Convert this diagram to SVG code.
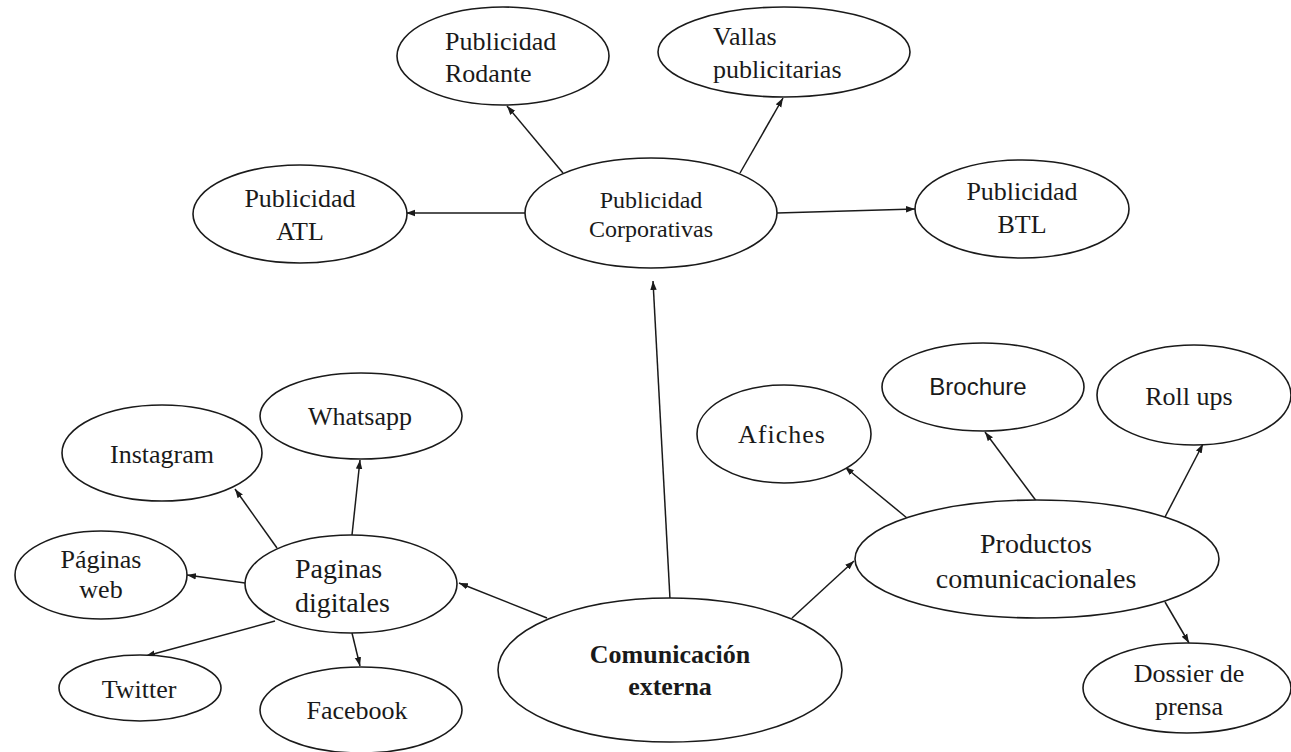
<svg xmlns="http://www.w3.org/2000/svg" width="1291" height="752" viewBox="0 0 1291 752">
  <style>
    .node ellipse { fill: #ffffff; stroke: #1a1a1a; stroke-width: 1.6; }
    .node text { font-family: "Liberation Serif", "Times New Roman", serif; font-size: 26px; fill: #1a1a1a; }
    .node text.c { text-anchor: middle; }
    .node text.big { font-size: 28px; }
    .node text.mid { font-size: 24px; }
    .node text.sans { font-family: "Liberation Sans", Arial, sans-serif; font-size: 24px; }
    .node text.bold { font-weight: bold; }
    .edges line { stroke: #1a1a1a; stroke-width: 1.5; fill: none; marker-end: url(#arrow); }
  </style>
  <defs>
    <marker id="arrow" markerUnits="userSpaceOnUse" markerWidth="10" markerHeight="8" refX="9" refY="4" orient="auto">
      <path d="M0,0.8 L9,4 L0,7.2 Z" fill="#1a1a1a"/>
    </marker>
  </defs>
  <rect width="1291" height="752" fill="#ffffff"/>

  <!-- connectors -->
  <g id="edges" class="edges">
    <line x1="670" y1="599" x2="653" y2="281"/>
    <line x1="525" y1="213" x2="406" y2="213"/>
    <line x1="777" y1="213" x2="915" y2="209"/>
    <line x1="563" y1="173" x2="507" y2="106"/>
    <line x1="740" y1="173" x2="783" y2="98"/>
    <line x1="547" y1="618" x2="459" y2="583"/>
    <line x1="277" y1="548" x2="235" y2="489"/>
    <line x1="352" y1="535" x2="360" y2="460"/>
    <line x1="245" y1="583" x2="187" y2="575"/>
    <line x1="275" y1="621" x2="146" y2="656"/>
    <line x1="352" y1="633" x2="360" y2="666"/>
    <line x1="792" y1="618" x2="854" y2="561"/>
    <line x1="907" y1="518" x2="845" y2="467"/>
    <line x1="1037" y1="502" x2="985" y2="432"/>
    <line x1="1165" y1="517" x2="1203" y2="444"/>
    <line x1="1165" y1="602" x2="1189" y2="643"/>
  </g>

  <!-- top cluster -->
  <g id="publicidad-corporativas" class="node">
    <ellipse cx="651" cy="213" rx="126" ry="55"/>
    <text class="c mid" x="651" y="208">Publicidad</text>
    <text class="c mid" x="651" y="237">Corporativas</text>
  </g>
  <g id="publicidad-rodante" class="node">
    <ellipse cx="503" cy="56" rx="106" ry="49"/>
    <text x="445" y="50">Publicidad</text>
    <text x="445" y="82">Rodante</text>
  </g>
  <g id="vallas-publicitarias" class="node">
    <ellipse cx="784" cy="52" rx="126" ry="45"/>
    <text x="713" y="45">Vallas</text>
    <text x="713" y="78">publicitarias</text>
  </g>
  <g id="publicidad-atl" class="node">
    <ellipse cx="300" cy="214" rx="107" ry="49"/>
    <text class="c" x="300" y="207">Publicidad</text>
    <text class="c" x="300" y="240">ATL</text>
  </g>
  <g id="publicidad-btl" class="node">
    <ellipse cx="1022" cy="209" rx="107" ry="49"/>
    <text class="c" x="1022" y="200">Publicidad</text>
    <text class="c" x="1022" y="233">BTL</text>
  </g>

  <!-- centre -->
  <g id="comunicacion-externa" class="node">
    <ellipse cx="670" cy="670" rx="172" ry="72"/>
    <text class="c bold" x="670" y="663">Comunicación</text>
    <text class="c bold" x="670" y="695">externa</text>
  </g>

  <!-- left cluster -->
  <g id="paginas-digitales" class="node">
    <ellipse cx="351" cy="584" rx="106" ry="49"/>
    <text class="big" x="295" y="578">Paginas</text>
    <text class="big" x="295" y="612">digitales</text>
  </g>
  <g id="instagram" class="node">
    <ellipse cx="162" cy="453" rx="100" ry="48"/>
    <text class="c" x="162" y="463">Instagram</text>
  </g>
  <g id="whatsapp" class="node">
    <ellipse cx="361" cy="416" rx="101" ry="43"/>
    <text class="c" x="360" y="425">Whatsapp</text>
  </g>
  <g id="paginas-web" class="node">
    <ellipse cx="101" cy="575" rx="86" ry="44"/>
    <text class="c" x="101" y="568">Páginas</text>
    <text class="c" x="101" y="598">web</text>
  </g>
  <g id="twitter" class="node">
    <ellipse cx="140" cy="688" rx="81" ry="33"/>
    <text class="c" x="139" y="698">Twitter</text>
  </g>
  <g id="facebook" class="node">
    <ellipse cx="361" cy="710" rx="101" ry="43"/>
    <text class="c" x="357" y="719">Facebook</text>
  </g>

  <!-- right cluster -->
  <g id="productos-comunicacionales" class="node">
    <ellipse cx="1037" cy="559" rx="182" ry="59"/>
    <text class="c big" x="1036" y="553">Productos</text>
    <text class="c big" x="1036" y="588">comunicacionales</text>
  </g>
  <g id="afiches" class="node">
    <ellipse cx="784" cy="434" rx="87" ry="49"/>
    <text class="c" x="782" y="443" letter-spacing="1">Afiches</text>
  </g>
  <g id="brochure" class="node">
    <ellipse cx="983" cy="387" rx="101" ry="44"/>
    <text class="c sans" x="978" y="395">Brochure</text>
  </g>
  <g id="roll-ups" class="node">
    <ellipse cx="1194" cy="395" rx="97" ry="50"/>
    <text class="c" x="1189" y="405">Roll ups</text>
  </g>
  <g id="dossier-de-prensa" class="node">
    <ellipse cx="1187" cy="688" rx="104" ry="45"/>
    <text class="c" x="1189" y="682">Dossier de</text>
    <text class="c" x="1189" y="715">prensa</text>
  </g>
</svg>
